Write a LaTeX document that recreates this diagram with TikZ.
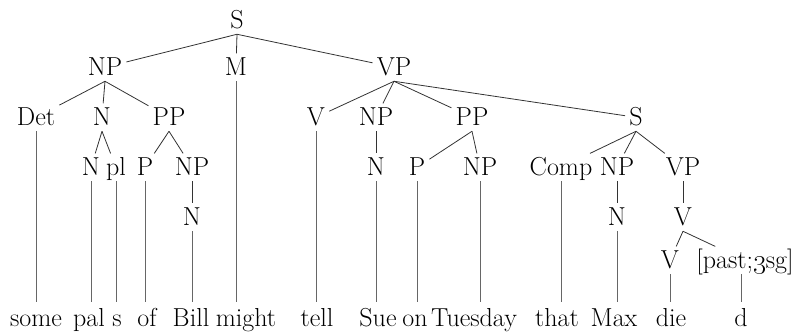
\documentclass[tikz,border=0pt]{standalone}

\tikzset{
  treenode/.style = {anchor=base, inner sep=3pt, font=\fontsize{19.5}{23}\selectfont},
  syn_c/.style = {treenode, text height=13pt, text depth=1.5pt},% categorie
  syn_w/.style = {treenode, text height=13pt, text depth=3pt, inner ysep=5pt},% mot
  branch/.style = {draw=black!80, line width=0.6pt},% arete
  stem/.style = {draw=black!60, line width=0.7pt}% trait vers le mot
}

\begin{document}
\begin{tikzpicture}[x=0.75pt, y=-0.75pt]
  \useasboundingbox (0,0) rectangle (801,333);
  % categories
  \node [syn_c] (s)      at (237,28)  {S};
  \node [syn_c] (np)     at (105,75)  {NP};
  \node [syn_c] (m)      at (236,75)  {M};
  \node [syn_c] (vp)     at (394,75)  {VP};
  \node [syn_c] (det)    at (36,125)  {Det};
  \node [syn_c] (n)      at (102,125) {N};
  \node [syn_c] (pp)     at (169,125) {PP};
  \node [syn_c] (v)      at (316,125) {V};
  \node [syn_c] (vnp)    at (376,125) {NP};
  \node [syn_c] (vpp)    at (472,125) {PP};
  \node [syn_c] (cs)     at (636,125) {S};
  \node [syn_c] (nstem)  at (91,175)  {N};
  \node [syn_c] (npl)    at (116,175) {pl};
  \node [syn_c] (p)      at (145,175) {P};
  \node [syn_c] (pnp)    at (192,175) {NP};
  \node [syn_c] (vnpn)   at (376,175) {N};
  \node [syn_c] (vppp)   at (417,175) {P};
  \node [syn_c] (vppnp)  at (480,175) {NP};
  \node [syn_c] (comp)   at (561,175) {Comp};
  \node [syn_c] (csnp)   at (617,175) {NP};
  \node [syn_c] (csvp)   at (683,175) {VP};
  \node [syn_c] (pnpn)   at (192,225) {N};
  \node [syn_c] (csnpn)  at (617,225) {N};
  \node [syn_c] (csv)    at (683,225) {V};
  \node [syn_c] (csvv)   at (670,268) {V};
  \node [syn_c] (infl)   at (745,268) {[past;\oldstylenums{3}sg]};
  % mots
  \node [syn_w] (w_some)  at (36,326)  {some};
  \node [syn_w] (w_pal)   at (89,326)  {pal};
  \node [syn_w] (w_s)     at (117,326) {s};
  \node [syn_w] (w_of)    at (147,326) {of};
  \node [syn_w] (w_bill)  at (191,326) {Bill};
  \node [syn_w] (w_might) at (246,326) {might};
  \node [syn_w] (w_tell)  at (317,326) {tell};
  \node [syn_w] (w_sue)   at (378,326) {Sue};
  \node [syn_w] (w_on)    at (415,326) {on};
  \node [syn_w] (w_tue)   at (474,326) {Tuesday};
  \node [syn_w] (w_that)  at (557,326) {that};
  \node [syn_w] (w_max)   at (614,326) {Max};
  \node [syn_w] (w_die)   at (671,326) {die};
  \node [syn_w] (w_d)     at (741,326) {d};
  % aretes
  \foreach \a/\b in {s/np, s/m, s/vp, np/det, np/n, np/pp, n/nstem, n/npl,
                     pp/p, pp/pnp, pnp/pnpn, vp/v, vp/vnp, vp/vpp, vp/cs,
                     vnp/vnpn, vpp/vppp, vpp/vppnp, cs/comp, cs/csnp, cs/csvp,
                     csnp/csnpn, csvp/csv, csv/csvv, csv/infl}
    \draw [branch] (\a.south) -- (\b);
  \foreach \a/\b in {det/w_some, nstem/w_pal, npl/w_s, p/w_of, pnpn/w_bill,
                     m/w_might, v/w_tell, vnpn/w_sue, vppp/w_on, vppnp/w_tue,
                     comp/w_that, csnpn/w_max, csvv/w_die}
    \draw [stem] (\a.south) -- (\a.south |- \b.north);
  \draw [stem] (w_d |- infl.south) -- (w_d.north);
\end{tikzpicture}
\end{document}
